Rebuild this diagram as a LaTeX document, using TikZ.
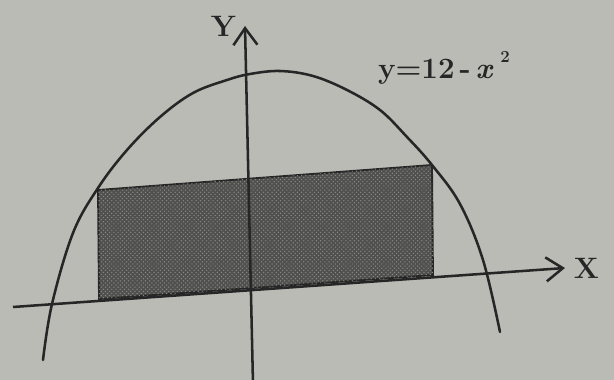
\documentclass[tikz,border=0pt]{standalone}
\usetikzlibrary{positioning,arrows.meta,patterns}
\definecolor{paper}{RGB}{186,187,181}
\definecolor{ink}{RGB}{38,38,38}
\definecolor{stipple}{RGB}{80,80,78}
\tikzset{
	>={Straight Barb[length=4.2mm,width=6mm]}
}

\begin{document}
\begin{tikzpicture}[
	x = 0.025cm,
	y = -0.025cm,
	every node/.style = {
		font = \fontsize{21}{24}\selectfont\bfseries,
		text = ink
	},
	axis/.style = {
		draw = ink,
		line width = 1.8pt,
		->
	},
	curve/.style = {
		draw = ink,
		line width = 1.8pt,
		line cap = round
	},
	area/.style = {
		draw = ink,
		line width = 1.3pt,
		fill = stipple
	}
	]
	
	\fill[paper] (0,0) rectangle (614,380);
	\useasboundingbox (0,0) rectangle (614,380);
	
	% axes end points
	\coordinate (xleft) at (13,307);
	\coordinate (xright) at (565,268);
	\coordinate (ybot) at (253,384);
	\coordinate (ytop) at (245,26);
	
	% rectangle under the curve
	\coordinate (rtl) at (98,190);
	\coordinate (rtr) at (432,165);
	\coordinate (rbr) at (433,275);
	\coordinate (rbl) at (99,299);
	\filldraw[area] (rtl) -- (rtr) -- (rbr) -- (rbl) -- cycle;
	\fill[pattern=crosshatch dots, pattern color=paper!75!black] (rtl) -- (rtr) -- (rbr) -- (rbl) -- cycle;
	
	\draw[axis] (xleft) -- (xright);
	\draw[axis] (ybot) -- (ytop);
	
	% y = 12 - x^2
	\draw[curve] plot[smooth, tension=0.6] coordinates {
		(43,360) (52,304) (73,233) (98,188) (127,150) (160,117) (193,93)
		(227,80) (250,74) (280,71) (313,76) (347,90) (380,110) (407,137)
		(432,165) (460,204) (483,260) (500,332)};
	
	\node (ylab) [left = 1mm of ytop] {Y};
	\node (xlab) [right = 1mm of xright] {X};
	\node (curvelab) at (444,68) {y=12\,-\,\textit{x}\hspace{5pt}\raisebox{1.2ex}{\fontsize{12}{14}\selectfont 2}};
	
\end{tikzpicture}
\end{document}
